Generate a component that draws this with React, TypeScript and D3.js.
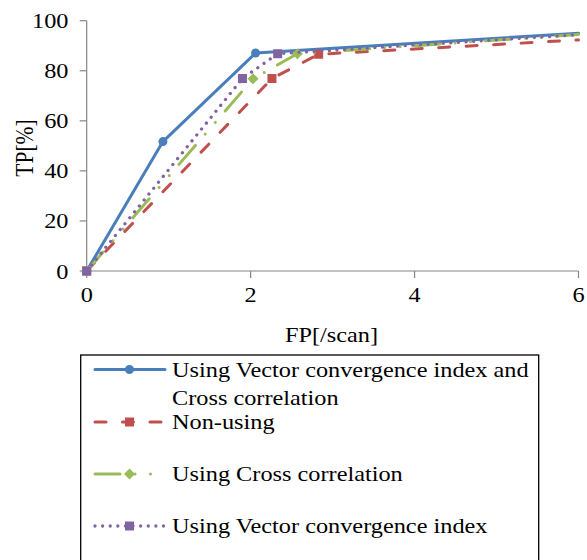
import React from "react";
import * as d3 from "d3";

const xTicks = [0, 2, 4, 6];
const yTicks = [0, 20, 40, 60, 80, 100];

const seriesNames = [
  ["Using Vector convergence index and", "Cross correlation"],
  ["Non-using"],
  ["Using Cross correlation"],
  ["Using Vector convergence index"],
];

const blueX = [0, 0.93, 2.06, 6];
const blueY = [0, 51.7, 87.1, 95.0];
const redX = [0, 2.26, 2.83, 6];
const redY = [0, 76.9, 86.6, 92.3];
const greenX = [0, 2.03, 2.57, 6];
const greenY = [0, 76.8, 86.8, 94.5];
const purpleX = [0, 1.9, 2.33, 6];
const purpleY = [0, 76.9, 86.8, 94.4];

const W = 587;
const H = 560;
const FONT = "Liberation Serif";
const FS = 21.5;
const SX = 1.13;

type Series = {
  xs: number[];
  ys: number[];
  color: string;
  marker: string;
  dash: string;
  width: number;
  cap: "round" | "butt";
};

const series: Series[] = [
  { xs: blueX, ys: blueY, color: "#4A7EBB", marker: "circle", dash: "none", width: 3, cap: "round" },
  { xs: redX, ys: redY, color: "#C0504D", marker: "square", dash: "11 16.5", width: 3, cap: "round" },
  { xs: greenX, ys: greenY, color: "#9BBB59", marker: "diamond", dash: "25 15 0.01 15.5 0.01 15", width: 3, cap: "round" },
  { xs: purpleX, ys: purpleY, color: "#8064A2", marker: "square", dash: "0.01 7.6", width: 3.3, cap: "round" },
];

function Marker({ type, x, y, color }: { type: string; x: number; y: number; color: string }) {
  if (type === "circle") return <circle cx={x} cy={y} r={4.5} fill={color} />;
  if (type === "square") return <rect x={x - 4.5} y={y - 4.5} width={9} height={9} fill={color} />;
  if (type === "diamond")
    return <path d={`M${x},${y - 5.5}L${x + 5.5},${y}L${x},${y + 5.5}L${x - 5.5},${y}Z`} fill={color} />;
  return null;
}

function T(props: { x: number; y: number; anchor?: string; rotate?: boolean; children: React.ReactNode }) {
  const tr = `translate(${props.x},${props.y}) scale(${SX},1)` + (props.rotate ? " rotate(-90)" : "");
  return (
    <text
      transform={tr}
      textAnchor={props.anchor || "start"}
      style={{ fontFamily: FONT, fontSize: FS + "px" }}
      fill="#000"
    >
      {props.children}
    </text>
  );
}

export default function App() {
  const x = d3.scaleLinear().domain([0, 6]).range([86.7, 578.5]);
  const y = d3.scaleLinear().domain([0, 100]).range([271, 20.7]);
  const axisColor = "#868686";

  const line = d3
    .line<[number, number]>()
    .x((d) => x(d[0]))
    .y((d) => y(d[1]));

  const legendX0 = 95;
  const legendX1 = 165;
  const legendMid = 129.5;
  const legendRowY = [369.5, 422, 474, 526];

  return (
    <svg width={W} height={H} style={{ position: "absolute", left: 0, top: 0, background: "#fff" }}>
      <rect width={W} height={H} fill="#fff" />
      {/* y axis */}
      <line x1={x(0)} x2={x(0)} y1={y(0)} y2={y(100)} stroke={axisColor} strokeWidth={1.2} />
      {yTicks.map((t) => (
        <g key={"y" + t}>
          <line x1={x(0) - 7} x2={x(0)} y1={y(t)} y2={y(t)} stroke={axisColor} strokeWidth={1.2} />
          <T x={68.5} y={y(t) + 7.5} anchor="end">
            {t}
          </T>
        </g>
      ))}
      {/* x axis */}
      <line x1={x(0)} x2={x(6)} y1={y(0)} y2={y(0)} stroke={axisColor} strokeWidth={1.2} />
      {xTicks.map((t) => (
        <g key={"x" + t}>
          <line x1={x(t)} x2={x(t)} y1={y(0)} y2={y(0) + 7} stroke={axisColor} strokeWidth={1.2} />
          <T x={x(t)} y={302} anchor="middle">
            {t}
          </T>
        </g>
      ))}
      <T x={331.5} y={342} anchor="middle">
        FP[/scan]
      </T>
      <T x={33} y={148} anchor="middle" rotate>
        TP[%]
      </T>

      {/* series */}
      {series.map((s, i) => {
        const pts = s.xs.map((v, j) => [v, s.ys[j]] as [number, number]);
        return (
          <g key={"s" + i}>
            <path
              d={line(pts) || ""}
              fill="none"
              stroke={s.color}
              strokeWidth={s.width}
              strokeDasharray={s.dash}
              strokeLinecap={s.cap}
              strokeLinejoin="round"
            />
            {pts.slice(0, pts.length - 1).map((p, j) => (
              <Marker key={j} type={s.marker} x={x(p[0])} y={y(p[1])} color={s.color} />
            ))}
          </g>
        );
      })}

      {/* legend */}
      <rect x={80.7} y={355} width={458} height={220} fill="none" stroke="#000" strokeWidth={1.3} />
      {series.map((s, i) => (
        <g key={"l" + i}>
          <line
            x1={legendX0}
            x2={legendX1}
            y1={legendRowY[i]}
            y2={legendRowY[i]}
            stroke={s.color}
            strokeWidth={s.width}
            strokeDasharray={s.dash}
            strokeLinecap={s.cap}
          />
          <Marker type={s.marker} x={legendMid} y={legendRowY[i]} color={s.color} />
          {seriesNames[i].map((t, k) => (
            <T key={k} x={172} y={legendRowY[i] + 7 + k * 28}>
              {t}
            </T>
          ))}
        </g>
      ))}
    </svg>
  );
}
